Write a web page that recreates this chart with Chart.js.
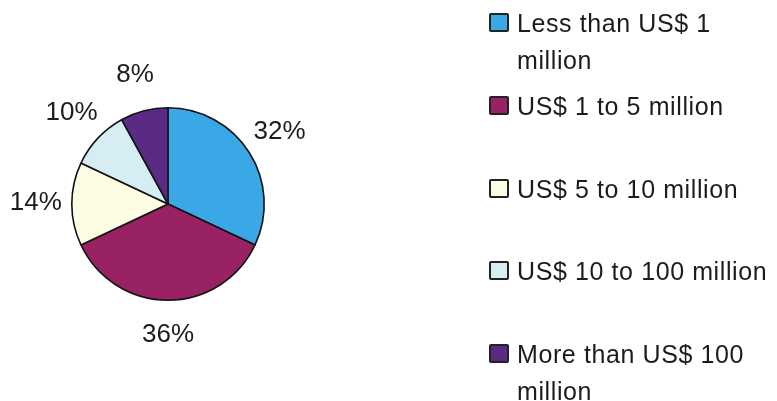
<!DOCTYPE html>
<html>
<head>
<meta charset="utf-8">
<script src="https://cdn.jsdelivr.net/npm/chart.js@4/dist/chart.umd.min.js"></script>
<style>
  html, body { margin: 0; padding: 0; background: #ffffff; }
  #wrap { position: relative; width: 777px; height: 401px; overflow: hidden; }
  #pie { position: absolute; left: 0; top: 0; }
  #legend { position: absolute; left: 488px; top: 0; width: 289px; height: 401px;
            font-family: Arial, "Liberation Sans", sans-serif; font-size: 25px;
            letter-spacing: 0.6px; color: #1c1c1c; }
  .item { position: absolute; left: 0; width: 289px; }
  .box { position: absolute; left: 1px; width: 16px; height: 15px; border: 2px solid #222;
         border-radius: 2px; }
  .txt { position: absolute; left: 29px; width: 260px; line-height: 37px; }
</style>
</head>
<body>
<div id="wrap">
  <canvas id="pie" width="777" height="401"></canvas>
  <div id="legend"></div>
</div>
<script>
// Company size bands and their share of respondents (%)
const categories = [
  "Less than US$ 1 million",
  "US$ 1 to 5 million",
  "US$ 5 to 10 million",
  "US$ 10 to 100 million",
  "More than US$ 100 million"
];
const shares = [32, 36, 14, 10, 8];
const sliceColors = ["#3aa7e6", "#982264", "#fdfde4", "#d5edf3", "#5a2a84"];

// Percentage labels placed just outside each slice
const outsideLabels = {
  id: "outsideLabels",
  afterDatasetsDraw(chart) {
    const ctx = chart.ctx;
    const meta = chart.getDatasetMeta(0);
    ctx.save();
    ctx.font = "26px Arial, 'Liberation Sans', sans-serif";
    ctx.fillStyle = "#1c1c1c";
    ctx.textAlign = "center";
    ctx.textBaseline = "middle";
    meta.data.forEach((arc, i) => {
      const p = arc.getProps(["x", "y", "startAngle", "endAngle", "outerRadius"], true);
      const mid = (p.startAngle + p.endAngle) / 2;
      const d = p.outerRadius + 36;
      ctx.fillText(chart.data.datasets[0].data[i] + "%",
        p.x + Math.cos(mid) * d, p.y + Math.sin(mid) * d - 1);
    });
    ctx.restore();
  }
};

new Chart(document.getElementById("pie"), {
  type: "pie",
  data: {
    labels: categories,
    datasets: [{
      data: shares,
      backgroundColor: sliceColors,
      borderColor: "#141414",
      borderWidth: 1.6
    }]
  },
  options: {
    responsive: false,
    animation: false,
    layout: { padding: { left: 71, top: 107, right: 512, bottom: 100 } },
    plugins: {
      legend: { display: false },
      tooltip: { enabled: false }
    }
  },
  plugins: [outsideLabels]
});

// Legend on the right, one swatch per band
const legend = document.getElementById("legend");
categories.forEach((name, i) => {
  const item = document.createElement("div");
  item.className = "item";
  item.style.top = (5 + i * 82.75) + "px";
  const box = document.createElement("div");
  box.className = "box";
  box.style.top = "8px";
  box.style.background = sliceColors[i];
  const txt = document.createElement("div");
  txt.className = "txt";
  txt.style.top = "0px";
  txt.textContent = name;
  item.appendChild(box);
  item.appendChild(txt);
  legend.appendChild(item);
});
</script>
</body>
</html>
